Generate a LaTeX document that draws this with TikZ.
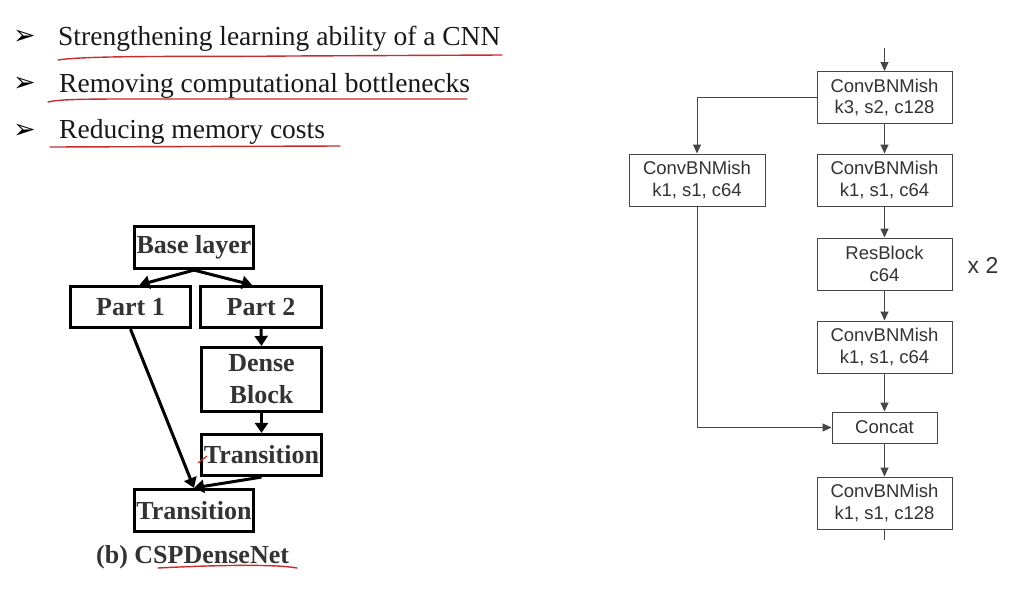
\documentclass[tikz,border=0pt]{standalone}
\usepackage{fontspec}
\setmainfont{Liberation Serif}
\newfontfamily\arialf{Liberation Sans}
\newfontfamily\dejavuf{DejaVu Sans}
\usetikzlibrary{arrows.meta,calc}
\definecolor{pen}{RGB}{200,45,45}
\definecolor{txtdark}{RGB}{51,51,51}
\definecolor{linegray}{RGB}{70,70,70}
\begin{document}
\begin{tikzpicture}[x=1pt,y=-1pt,
  bul/.style={font=\dejavuf\bfseries\fontsize{27}{27}\selectfont, anchor=base west, inner sep=0},
  btxt/.style={font=\fontsize{27.5}{30}\selectfont, anchor=base west, inner sep=0, text=black!90},
  redpen/.style={draw=pen, line width=1.4pt, line cap=round},
  lbox/.style={draw=black, line width=3.2pt, inner sep=0, text=txtdark,
    font=\bfseries\fontsize{26}{32}\selectfont, align=center},
  larr/.style={draw=black, line width=3pt, -{Triangle[width=13pt,length=10pt]}},
  rbox/.style={draw=linegray, line width=1pt, inner sep=0, text=txtdark,
    font=\arialf\fontsize{18.5}{21.7}\selectfont, align=center,
    minimum width=135, minimum height=52},
  rarr/.style={draw=linegray, line width=1pt, -{Triangle[width=8pt,length=9pt]}},
  rline/.style={draw=linegray, line width=1pt}
]
\useasboundingbox (0,0) rectangle (1028,590);
\fill[white] (0,0) rectangle (1028,590);

% bullets
\node[bul] (b1) at (13,44) {➢};
\node[bul] (b2) at (13,91) {➢};
\node[bul] (b3) at (13,138) {➢};
\node[btxt] (t1) at (58,45) {Strengthening learning ability of a CNN};
\node[btxt] (t2) at (59,92) {Removing computational bottlenecks};
\node[btxt] (t3) at (59,138) {Reducing memory costs};
\draw[redpen] (58,60) .. controls (90,55) and (200,57) .. (290,56) -- (502,55);
\draw[redpen] (48,102) .. controls (60,99) and (90,99) .. (140,99) -- (467,99);
\draw[redpen] (50,147) -- (340,146);

% left CSPDenseNet
\node[lbox, minimum width=119, minimum height=42] (base) at (194,247.5) {Base layer};
\node[lbox, minimum width=120, minimum height=41] (p1) at (130.5,307) {Part 1};
\node[lbox, minimum width=121, minimum height=41] (p2) at (261,307) {Part 2};
\node[lbox, minimum width=120, minimum height=64] (dense) at (261.5,379.5) {Dense\\Block};
\node[lbox, minimum width=120, minimum height=41] (trr) at (261.5,455) {Transition};
\node[lbox, minimum width=119, minimum height=42] (trb) at (194,510.5) {Transition};
\node[anchor=base west, inner sep=0, text=txtdark, font=\bfseries\fontsize{26}{30}\selectfont] (cap) at (96,563) {(b) CSPDenseNet};

\draw[larr] (base.south) -- ($(p1.north)+(9,0)$);
\draw[larr] (base.south) -- ($(p2.north)+(-9,0)$);
\draw[larr] (p2.south) -- (dense.north);
\draw[larr] (dense.south) -- (trr.north);
\draw[larr] (p1.south) -- (trb.north);
\draw[larr] (trr.south) -- (trb.north);
\draw[redpen] ($(cap.base west)+(62,5)$) .. controls ($(cap.base west)+(120,2)$) and ($(cap.base west)+(180,1)$) .. ($(cap.base west)+(201,5)$);
\draw[pen, line width=1.2pt] (198,463) -- (207,456);

% right CSP block
\coordinate (in) at (884.5,48);
\node[rbox] (top) at (884.5,97.5) {ConvBNMish\\k3, s2, c128};
\node[rbox, minimum width=136] (lft) at (697,180) {ConvBNMish\\k1, s1, c64};
\node[rbox] (r2) at (884.5,180) {ConvBNMish\\k1, s1, c64};
\node[rbox] (res) at (884.5,264) {ResBlock\\c64};
\node[anchor=center, inner sep=0, text=txtdark, font=\arialf\fontsize{23}{23}\selectfont] (x2) at (983,265) {x 2};
\node[rbox] (r3) at (884.5,347) {ConvBNMish\\k1, s1, c64};
\node[rbox, minimum width=105, minimum height=31] (cat) at (884.5,427.5) {Concat};
\node[rbox] (last) at (884.5,503) {ConvBNMish\\k1, s1, c128};
\coordinate (out) at (884.5,540);

\draw[rarr] (in) -- (top.north);
\draw[rarr] (top.west) -| (lft.north);
\draw[rarr] (top.south) -- (r2.north);
\draw[rarr] (r2.south) -- (res.north);
\draw[rarr] (res.south) -- (r3.north);
\draw[rarr] (r3.south) -- (cat.north);
\draw[rarr] (lft.south) |- (cat.west);
\draw[rarr] (cat.south) -- (last.north);
\draw[rline] (last.south) -- (out);
\end{tikzpicture}
\end{document}
